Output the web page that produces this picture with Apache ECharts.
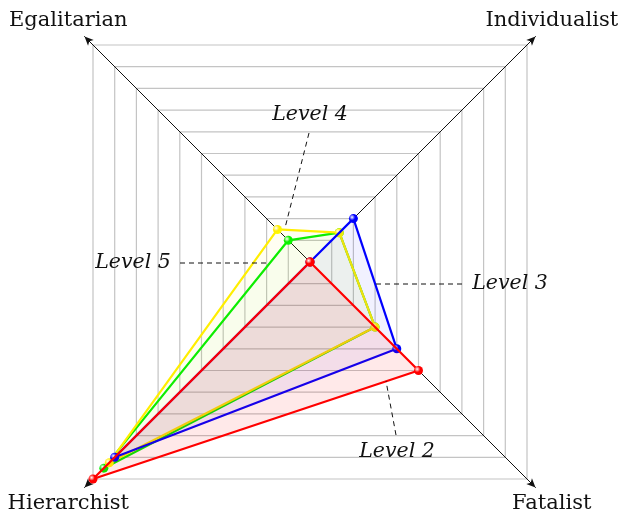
<!DOCTYPE html>
<html>
<head>
<meta charset="utf-8">
<script src="https://cdn.jsdelivr.net/npm/echarts@6/dist/echarts.min.js"></script>
<style>
  html, body { margin: 0; padding: 0; background: #fff; }
  #chart { width: 621px; height: 517px; }
</style>
</head>
<body>
<div id="chart"></div>
<script>
  // axes in drawing order, starting top-left and going counter-clockwise
  var axes = ["Egalitarian", "Hierarchist", "Fatalist", "Individualist"];
  var levelNames = ["Level 4", "Level 5", "Level 3", "Level 2"];
  var level4 = [1, 9.5, 3, 1.35];    // green
  var level5 = [1.5, 9.25, 3, 1.35]; // yellow
  var level3 = [0, 9, 4, 2];         // blue
  var level2 = [0, 10, 5, 0];        // red
  var seriesData = [level4, level5, level3, level2];
  var seriesColors = ["#00ee00", "#ffee00", "#0000ff", "#ff0000"];
  var fillColors = ["rgba(0,230,0,0.04)", "rgba(255,238,0,0.07)", "rgba(0,0,255,0.08)", "rgba(255,0,0,0.12)"];

  var CX = 310, CY = 262;
  var HALF = 217;                    // half side of the outer square
  var R = HALF * Math.SQRT2;         // radar radius reaches the corners
  var serif = "'DejaVu Serif', 'Liberation Serif', serif";

  function ball(color) {
    return {
      type: "radial", x: 0.35, y: 0.35, r: 0.75,
      colorStops: [
        { offset: 0, color: "#ffffff" },
        { offset: 0.45, color: color },
        { offset: 1, color: echarts.color.lift(color, -0.35) }
      ]
    };
  }

  var indicator = axes.map(function(name) {
    return { name: name, min: 0, max: 10 };
  });

  var series = seriesData.map(function(values, i) {
    return {
      type: "radar",
      radarIndex: 0,
      symbol: "circle",
      symbolSize: 9,
      z: 2 + i,
      data: [{
        name: levelNames[i],
        value: values,
        lineStyle: { color: seriesColors[i], width: 2.2 },
        areaStyle: { color: fillColors[i] },
        itemStyle: { color: ball(seriesColors[i]), borderWidth: 0 }
      }]
    };
  });

  // leader lines: label position and the two ends of the dashed line
  var notes = [
    { text: "Level 4", tx: 310, ty: 115, line: [309, 133, 285, 228] },
    { text: "Level 5", tx: 133, ty: 263, line: [180, 263, 270, 263] },
    { text: "Level 3", tx: 510, ty: 284, line: [462, 284, 375, 284] },
    { text: "Level 2", tx: 397, ty: 452, line: [396, 435, 386, 381] }
  ];

  var graphic = [];
  notes.forEach(function(n) {
    graphic.push({
      type: "line",
      z: 100,
      shape: { x1: n.line[0], y1: n.line[1], x2: n.line[2], y2: n.line[3] },
      style: { stroke: "#111", lineWidth: 1, lineDash: [5, 4] }
    });
    graphic.push({
      type: "text",
      z: 100,
      style: {
        text: n.text, x: n.tx, y: n.ty,
        align: "center", verticalAlign: "middle",
        font: "italic 20.5px " + serif, fill: "#111"
      }
    });
  });

  var chart = echarts.init(document.getElementById("chart"), null, { renderer: "canvas" });

  chart.setOption({
    animation: false,
    radar: [
      {
        // grid of nested squares
        center: [CX, CY],
        radius: R,
        startAngle: 135,
        splitNumber: 10,
        shape: "polygon",
        indicator: indicator,
        axisName: { show: false },
        axisLine: { show: false },
        splitLine: { lineStyle: { color: "#c4c4c4", width: 1.2 } },
        splitArea: { show: false }
      },
      {
        // axes with arrow heads, a little longer than the grid
        center: [CX, CY],
        radius: R + 12,
        startAngle: 135,
        splitNumber: 1,
        shape: "polygon",
        indicator: indicator,
        nameGap: 23,
        axisName: {
          color: "#111", fontFamily: serif, fontSize: 21,
          align: "center", verticalAlign: "middle"
        },
        axisLine: {
          show: true,
          symbol: ["none", "arrow"],
          symbolSize: [6, 9],
          lineStyle: { color: "#111", width: 1 }
        },
        splitLine: { show: false },
        splitArea: { show: false }
      }
    ],
    series: series,
    graphic: graphic
  });
</script>
</body>
</html>
